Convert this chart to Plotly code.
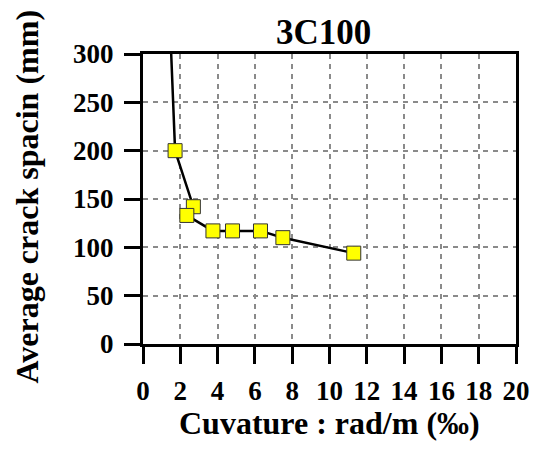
import plotly.graph_objects as go

# Curvature (‰) vs. average crack spacing (mm) for specimen 3C100
curvature = [1.45, 1.72, 2.70, 2.35, 3.75, 4.80, 6.30, 7.50, 11.30]
crack_spacing = [330, 200, 142, 133, 117, 117, 117, 110, 94]

x_ticks = [0, 2, 4, 6, 8, 10, 12, 14, 16, 18, 20]
y_ticks = [0, 50, 100, 150, 200, 250, 300]

serif = "Liberation Serif"

fig = go.Figure()
fig.add_trace(go.Scatter(
    x=curvature,
    y=crack_spacing,
    mode="lines+markers",
    line=dict(color="black", width=2.5),
    marker=dict(symbol="square", size=14, color="#FFFF00",
                line=dict(color="#333333", width=1)),
    showlegend=False,
))

axis_common = dict(
    showline=True, linecolor="black", linewidth=3, mirror=True,
    ticks="outside", tickcolor="black", tickwidth=3,
    showgrid=True, gridcolor="#8a8a8a", gridwidth=1.5, griddash="5px,5px",
    zeroline=False,
    tickfont=dict(family=serif, size=27, color="black", weight="bold"),
)

fig.update_xaxes(
    range=[0, 20], tickvals=x_ticks, ticktext=[str(v) for v in x_ticks],
    ticklen=17, ticklabelstandoff=4,
    **axis_common,
)
fig.update_yaxes(
    range=[0, 300], tickvals=y_ticks, ticktext=[str(v) for v in y_ticks],
    ticklen=16, ticklabelstandoff=5,
    **axis_common,
)

# axis titles placed as paper-anchored annotations
fig.add_annotation(
    text="<b>Cuvature : rad/m (‰)</b>", xref="paper", yref="paper",
    x=0.5, y=-0.272, xanchor="center", yanchor="middle", showarrow=False,
    font=dict(family=serif, size=32, color="black"),
)
fig.add_annotation(
    text="<b>Average crack spacin (mm)</b>", xref="paper", yref="paper",
    x=-0.31, y=0.51, xanchor="center", yanchor="middle", showarrow=False,
    textangle=-90,
    font=dict(family=serif, size=32, color="black"),
)

fig.update_layout(
    width=542, height=461,
    margin=dict(l=143, r=19, t=54, b=117),
    paper_bgcolor="white", plot_bgcolor="white",
    title=dict(text="<b>3C100</b>", x=0.597, xanchor="center",
               y=0.905, yanchor="bottom",
               font=dict(family=serif, size=35, color="black")),
)

fig.write_html("out.html")
